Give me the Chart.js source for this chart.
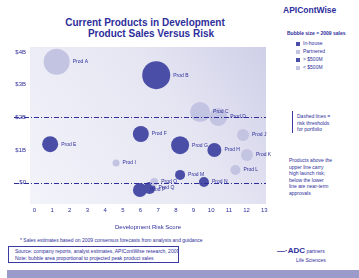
<!DOCTYPE html>
<html>
<head>
<meta charset="utf-8">
<script src="https://cdn.jsdelivr.net/npm/chart.js@4.4.1/dist/chart.umd.min.js"></script>
<style>
  body { margin: 0; width: 359px; height: 278px; background: #fff; position: relative; overflow: hidden;
         font-family: "Liberation Sans", Arial, sans-serif; color: #2e2e9a; }
  #chart { position: absolute; left: 0; top: 0; }
  .t { position: absolute; white-space: nowrap; }
  .title { font-weight: bold; font-size: 10px; left: 0; width: 290px; text-align: center; }
  .small { font-size: 5px; line-height: 6.5px; }
  .box { position: absolute; left: 8px; top: 246px; width: 171px; height: 17px; border: 1px solid #3a3aa0;
         font-size: 5px; line-height: 7px; padding-left: 6px; padding-top: 1px; box-sizing: border-box;
         white-space: nowrap; overflow: hidden; }
  .bar { position: absolute; left: 7px; top: 270px; width: 352px; height: 8px; background: #9a9acb; }
  .sw { display: inline-block; width: 4px; height: 4px; margin-right: 3px; vertical-align: middle; }
</style>
</head>
<body>
<div class="t title" style="top:17px">Current Products in Development</div>
<div class="t title" style="top:28px;left:6px">Product Sales Versus Risk</div>
<div class="t" style="left:283px;top:5px;font-weight:bold;font-size:8.5px">APIContWise</div>

<div class="t small" style="left:287px;top:30px;font-weight:bold">Bubble size = 2009 sales</div>
<div class="t small" style="left:296px;top:40px"><span class="sw" style="background:#4a4ea6"></span>In-house</div>
<div class="t small" style="left:296px;top:48px"><span class="sw" style="background:#c3c3e2"></span>Partnered</div>
<div class="t small" style="left:296px;top:56px"><span class="sw" style="background:#4a4ea6"></span>&gt; $500M</div>
<div class="t small" style="left:296px;top:64px"><span class="sw" style="background:#c3c3e2"></span>&lt; $500M</div>

<div class="t" style="left:292px;top:111px;width:1px;height:22px;background:#3a3aa0"></div>
<div class="t small" style="left:297px;top:113px">Dashed lines =<br>risk thresholds<br>for portfolio</div>

<div class="t small" style="left:289px;top:157px">Products above the<br>upper line carry<br>high launch risk;<br>below the lower<br>line are near-term<br>approvals</div>

<div class="t small" style="left:20px;top:237px">* Sales estimates based on 2009 consensus forecasts from analysts and guidance</div>
<div class="box">Source: company reports, analyst estimates, APIContWise research, 2009<br>Note: bubble area proportional to projected peak product sales</div>
<div class="t" style="left:277px;top:246px;font-size:8px;font-weight:bold">&mdash;&middot;ADC<span style="font-size:5px;font-weight:normal"> partners</span></div>
<div class="t small" style="left:296px;top:257px">Life Sciences</div>
<div class="bar"></div>

<canvas id="chart" width="280" height="235"></canvas>

<script>
// x = development risk score, y = sales tier
const xTicks = [0, 1, 2, 3, 4, 5, 6, 7, 8, 9, 10, 11, 12, 13];
const xTickLabels = ['0', '1', '2', '3', '4', '5', '6', '7', '8', '9', '10', '11', '12', '13'];
const yTicks = [0, 1, 2, 3, 4];
const yTickLabels = ['$0', '$1B', '$2B', '$3B', '$4B'];
const refLines = [2, 0];

const darkX = [6.89, 0.89, 6.02, 8.24, 10.18, 8.24, 9.59, 5.97, 6.51];
const darkY = [3.29, 1.18, 1.49, 1.15, 1.00, 0.24, 0.02, -0.22, -0.16];
const darkR = [14, 8, 8, 9, 7, 5, 5, 7, 6];
const darkNames = ['Prod B', 'Prod E', 'Prod F', 'Prod G', 'Prod H', 'Prod M', 'Prod N', 'Prod P', 'Prod Q'];

const paleX = [1.26, 9.37, 10.4, 4.62, 11.8, 12.02, 11.37, 6.78];
const paleY = [3.70, 2.16, 2.01, 0.60, 1.46, 0.85, 0.39, 0.02];
const paleR = [13, 10, 9, 3.5, 6, 6, 5, 4];
const paleNames = ['Prod A', 'Prod C', 'Prod D', 'Prod I', 'Prod J', 'Prod K', 'Prod L', 'Prod O'];

const navy = '#2e2e9a';

function toPoints(xs, ys, rs) {
  return xs.map((x, i) => ({ x: x, y: ys[i], r: rs[i] }));
}

const plotBg = {
  id: 'plotBg',
  beforeDraw(c) {
    const a = c.chartArea, ctx = c.ctx;
    const g = ctx.createLinearGradient(a.left, a.bottom, a.right, a.top);
    g.addColorStop(0, '#f3f3fa');
    g.addColorStop(0.6, '#e6e6f3');
    g.addColorStop(1, '#cfd0e8');
    ctx.save();
    ctx.fillStyle = g;
    ctx.fillRect(a.left, a.top, a.right - a.left, a.bottom - a.top);
    ctx.restore();
  }
};

const refLinePlugin = {
  id: 'refLines',
  afterDatasetsDraw(c) {
    const ctx = c.ctx, y = c.scales.y;
    ctx.save();
    ctx.strokeStyle = navy;
    ctx.lineWidth = 1;
    ctx.setLineDash([5, 2, 1, 2]);
    refLines.forEach(v => {
      const py = Math.round(y.getPixelForValue(v)) + 0.5;
      ctx.beginPath();
      ctx.moveTo(14, py);
      ctx.lineTo(c.chartArea.right, py);
      ctx.stroke();
    });
    ctx.restore();
  }
};

const bubbleLabels = {
  id: 'bubbleLabels',
  afterDatasetsDraw(c) {
    const ctx = c.ctx;
    ctx.save();
    ctx.font = '5px "Liberation Sans", Arial, sans-serif';
    ctx.fillStyle = navy;
    ctx.textBaseline = 'middle';
    c.data.datasets.forEach((ds, di) => {
      const meta = c.getDatasetMeta(di);
      meta.data.forEach((el, i) => {
        ctx.fillText(ds.names[i], el.x + ds.data[i].r + 3, el.y);
      });
    });
    ctx.restore();
  }
};

new Chart(document.getElementById('chart'), {
  type: 'bubble',
  data: {
    datasets: [
      {
        label: 'Partnered',
        data: toPoints(paleX, paleY, paleR),
        names: paleNames,
        backgroundColor: '#c3c3e2',
        borderWidth: 0
      },
      {
        label: 'In-house',
        data: toPoints(darkX, darkY, darkR),
        names: darkNames,
        backgroundColor: '#4a4ea6',
        borderWidth: 0
      }
    ]
  },
  options: {
    responsive: false,
    animation: false,
    devicePixelRatio: 1,
    layout: { padding: { top: 47, right: 3, left: 0, bottom: 0 } },
    plugins: { legend: { display: false }, tooltip: { enabled: false } },
    scales: {
      x: {
        min: -0.25, max: 13.1,
        grid: { display: false, drawTicks: false }, border: { display: false },
        afterBuildTicks: s => { s.ticks = xTicks.map(v => ({ value: v })); },
        afterFit: s => { s.height = 31; },
        ticks: {
          color: navy, font: { size: 6 }, padding: 3, maxRotation: 0, autoSkip: false,
          callback: (v, i) => xTickLabels[i]
        },
        title: { display: true, text: 'Development Risk Score', color: navy, font: { size: 6 }, padding: { top: 0, bottom: 4 } }
      },
      y: {
        min: -0.65, max: 4.15,
        grid: { display: false, drawTicks: false }, border: { display: false },
        afterBuildTicks: s => { s.ticks = yTicks.map(v => ({ value: v })); },
        afterFit: s => { s.width = 30; },
        ticks: {
          color: navy, font: { size: 6 }, padding: 4,
          callback: (v, i) => yTickLabels[i]
        }
      }
    }
  },
  plugins: [plotBg, refLinePlugin, bubbleLabels]
});
</script>
</body>
</html>
